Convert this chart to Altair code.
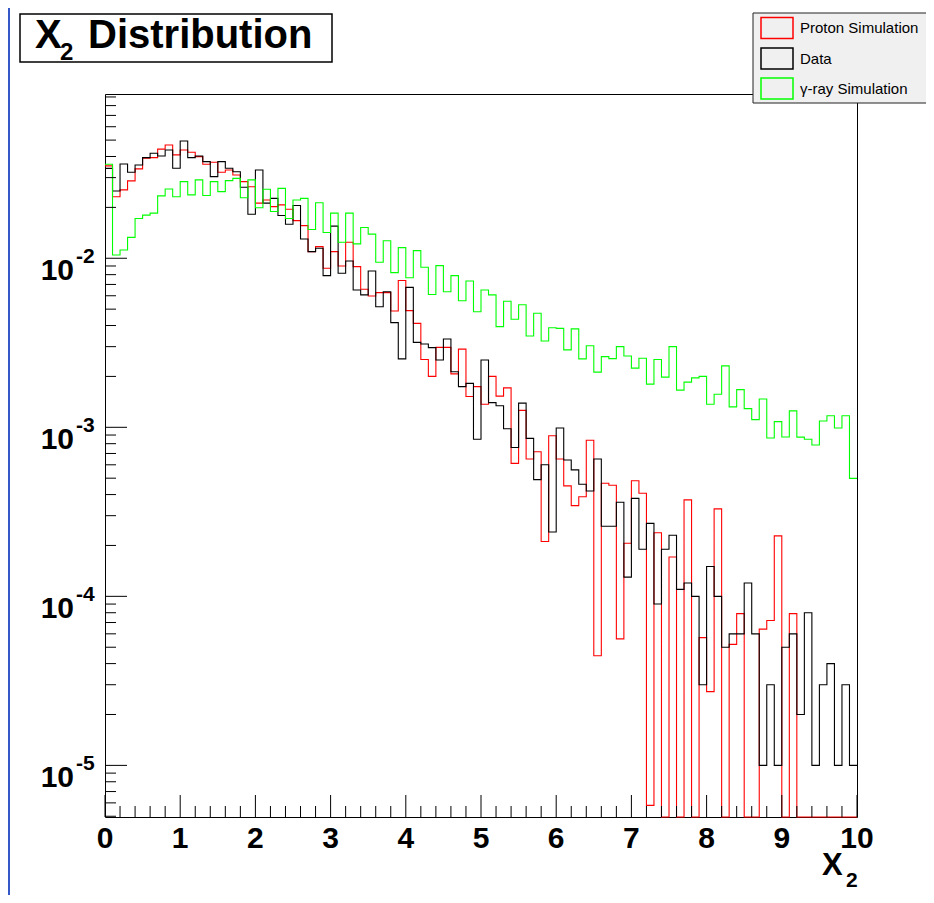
import altair as alt
import pandas as pd

# ---------------- data ----------------
X_EDGES = [round(i * 0.1, 1) for i in range(101)]   # bin edges 0.0 .. 10.0

PROTON = [
    0.0352, 0.0231, 0.0254, 0.0287, 0.0338, 0.0391, 0.0394, 0.0442, 0.0468, 0.0409,
    0.0437, 0.0424, 0.0399, 0.0360, 0.0370, 0.0323, 0.0333, 0.0311, 0.0284, 0.0265,
    0.0212, 0.0221, 0.0202, 0.0207, 0.0195, 0.0167, 0.0156, 0.01094, 0.01172, 0.00873,
    0.01094, 0.0090, 0.01244, 0.00892, 0.00656, 0.00598, 0.00626, 0.00626, 0.00488, 0.00738,
    0.0049, 0.00412, 0.00252, 0.0020, 0.00297, 0.00297, 0.00207, 0.0029, 0.00152, 0.00174,
    0.00137, 0.0020, 0.00153, 0.00171, 0.000612, 0.00126, 0.00065, 0.000717, 0.000211, 0.000892,
    0.00065, 0.00045, 0.000344, 0.000388, 0.000838, 0.0000445, 0.000467, 0.000454, 0.000056, 0.000206,
    0.000483, 0.000407, 0.0000058, 0.000238, 0.0, 0.000171, 0.0, 0.000372, 0.0, 0.000057,
    0.0000273, 0.000329, 0.0, 0.000052, 0.000079, 0.0, 0.0, 0.000064, 0.000072, 0.000228,
    0.0, 0.000079, 0.0, 0.0, 0.0, 0.0, 0.0, 0.0, 0.0, 0.0,
]

DATA = [
    0.034, 0.025, 0.0361, 0.0323, 0.0356, 0.0394, 0.0418, 0.0403, 0.0437, 0.0341,
    0.0494, 0.0394, 0.0403, 0.0373, 0.0304, 0.0373, 0.0341, 0.0325, 0.0263, 0.0182,
    0.0333, 0.0212, 0.0226, 0.0179, 0.0159, 0.0205, 0.0130, 0.01094, 0.01146, 0.00789,
    0.0155, 0.00815, 0.00964, 0.00649, 0.00607, 0.00841, 0.00517, 0.00634, 0.00416, 0.00254,
    0.00673, 0.00318, 0.00311, 0.00296, 0.0025, 0.00333, 0.00213, 0.00174, 0.00182, 0.00085,
    0.0025, 0.0014, 0.00134, 0.00098, 0.00076, 0.00139, 0.00086, 0.00049, 0.0006, 0.00024,
    0.00099, 0.00064, 0.00056, 0.00046, 0.00042, 0.00065, 0.00026, 0.00026, 0.00036, 0.00013,
    0.00038, 0.00019, 0.00027, 0.00009, 0.00019, 0.00023, 0.00011, 0.00012, 0.0001, 0.00003,
    0.00015, 0.0001, 0.00005, 0.00006, 0.00006, 0.00012, 0.00006, 0.00001, 0.00003, 0.00001,
    0.00005, 0.00006, 0.00002, 0.00008, 0.00001, 0.00003, 0.00004, 0.00001, 0.00003, 0.00001,
]

GAMMA = [
    0.0360, 0.01045, 0.0112, 0.0133, 0.0172, 0.0180, 0.0185, 0.0234, 0.0257, 0.0231,
    0.0284, 0.0237, 0.0291, 0.0235, 0.0284, 0.0248, 0.0288, 0.0297, 0.0228, 0.0291,
    0.0199, 0.0256, 0.0189, 0.0259, 0.0172, 0.0221, 0.0226, 0.0148, 0.0213, 0.0142,
    0.0185, 0.01244, 0.0185, 0.01216, 0.0152, 0.0139, 0.00947, 0.0127, 0.00822, 0.01156,
    0.00767, 0.0111, 0.00885, 0.0061, 0.00904, 0.00634, 0.00789, 0.00561, 0.00734, 0.00483,
    0.00649, 0.00607, 0.00394, 0.00557, 0.00436, 0.00531, 0.00347, 0.00473, 0.00324, 0.00388,
    0.00385, 0.00287, 0.00382, 0.00254, 0.00304, 0.00212, 0.00262, 0.00255, 0.0030, 0.00264,
    0.00224, 0.00256, 0.0018, 0.00252, 0.00198, 0.0030, 0.00166, 0.00185, 0.00196, 0.0020,
    0.00137, 0.00157, 0.00231, 0.00132, 0.00167, 0.00129, 0.00111, 0.00147, 0.000865, 0.00108,
    0.000877, 0.00125, 0.000875, 0.00085, 0.000786, 0.00109, 0.00117, 0.00099, 0.00117, 0.000499,
]

SERIES = ["Proton Simulation", "Data", "γ-ray Simulation"]
COLORS = ["#FF0000", "#000000", "#00FF00"]

X_MAJOR = [0, 1, 2, 3, 4, 5, 6, 7, 8, 9, 10]
Y_MAJOR = [1e-5, 1e-4, 1e-3, 1e-2]
Y_EXP = ["-5", "-4", "-3", "-2"]

# ---------------- layout ----------------
Y_MIN, Y_MAX = 4.95e-6, 0.0937
W, H = 752, 723
FONT = "Liberation Sans, Arial, Helvetica, sans-serif"

xs = alt.Scale(domain=[0, 10], nice=False, zero=False)
ys = alt.Scale(type="log", domain=[Y_MIN, Y_MAX], nice=False, clamp=True)

x_minor = [round(i + k * 0.2, 1) for i in range(10) for k in range(1, 5)]
y_minor = [k * 10.0 ** e for e in range(-6, -1) for k in range(2, 10)
           if Y_MIN <= k * 10.0 ** e <= Y_MAX]

one = pd.DataFrame({"k": [0]})


def box(x1, x2, y1, y2, **kw):
    return alt.Chart(one).mark_rect(**kw).encode(
        x=alt.value(x1), x2=alt.value(x2), y=alt.value(y1), y2=alt.value(y2))


def label(txt, x, y, **kw):
    return alt.Chart(one).mark_text(text=txt, font=FONT, **kw).encode(
        x=alt.value(x), y=alt.value(y))


layers = []

# left blue canvas edge
layers.append(box(-97, -95, -86, H + 80, color="#3558C8"))

# histograms (step lines)
for name, vals, col in zip(SERIES, [PROTON, DATA, GAMMA], COLORS):
    ext = list(vals) + [vals[-1]]
    df = pd.DataFrame({"x": X_EDGES, "v": [max(v, Y_MIN) for v in ext]})
    layers.append(
        alt.Chart(df).mark_line(interpolate="step-after", color=col, strokeWidth=1.1)
        .encode(x=alt.X("x:Q", scale=xs, axis=None),
                y=alt.Y("v:Q", scale=ys, axis=None))
    )

# x ticks (inside)
layers.append(
    alt.Chart(pd.DataFrame({"t": X_MAJOR})).mark_rule(color="black", strokeWidth=1)
    .encode(x=alt.X("t:Q", scale=xs, axis=None), y=alt.value(H), y2=alt.value(H - 22))
)
layers.append(
    alt.Chart(pd.DataFrame({"t": x_minor})).mark_rule(color="black", strokeWidth=1)
    .encode(x=alt.X("t:Q", scale=xs, axis=None), y=alt.value(H), y2=alt.value(H - 11))
)
# y ticks (inside)
layers.append(
    alt.Chart(pd.DataFrame({"t": Y_MAJOR})).mark_rule(color="black", strokeWidth=1)
    .encode(y=alt.Y("t:Q", scale=ys, axis=None), x=alt.value(0), x2=alt.value(22))
)
layers.append(
    alt.Chart(pd.DataFrame({"t": y_minor})).mark_rule(color="black", strokeWidth=1)
    .encode(y=alt.Y("t:Q", scale=ys, axis=None), x=alt.value(0), x2=alt.value(11))
)

# x tick labels
layers.append(
    alt.Chart(pd.DataFrame({"t": X_MAJOR, "s": [str(v) for v in X_MAJOR]}))
    .mark_text(font=FONT, fontSize=30, fontWeight="bold", align="center",
               baseline="alphabetic", color="black")
    .encode(x=alt.X("t:Q", scale=xs, axis=None), y=alt.value(H + 31), text="s:N")
)
# y tick labels 10^n
ylab = pd.DataFrame({"t": Y_MAJOR, "b": ["10"] * 4, "e": Y_EXP})
layers.append(
    alt.Chart(ylab).mark_text(font=FONT, fontSize=30, fontWeight="bold", align="right",
                              baseline="alphabetic", dy=21.7, color="black")
    .encode(y=alt.Y("t:Q", scale=ys, axis=None), x=alt.value(-31), text="b:N")
)
layers.append(
    alt.Chart(ylab).mark_text(font=FONT, fontSize=21, fontWeight="bold", align="left",
                              baseline="alphabetic", dy=5, color="black")
    .encode(y=alt.Y("t:Q", scale=ys, axis=None), x=alt.value(-29), text="e:N")
)

# x axis title X_2
layers.append(label("X", 717, H + 58, fontSize=31, fontWeight="bold", align="left",
                    baseline="alphabetic"))
layers.append(label("2", 741, H + 70, fontSize=21, fontWeight="bold", align="left",
                    baseline="alphabetic"))

# title box
layers.append(box(-85, 227, -80, -32, fill="white", stroke="black", strokeWidth=1.5))
layers.append(label("X", -70, -46, fontSize=40, fontWeight="bold", align="left",
                    baseline="alphabetic"))
layers.append(label("2", -45, -34, fontSize=24, fontWeight="bold", align="left",
                    baseline="alphabetic"))
layers.append(label("Distribution", -17, -46, fontSize=40, fontWeight="bold", align="left",
                    baseline="alphabetic"))

# legend
layers.append(box(648, 840, -81, 9, fill="#F0F0F0", stroke="#222222", strokeWidth=1))
row_y = [-66, -35.5, -5.5]
for name, col, yc in zip(SERIES, COLORS, row_y):
    layers.append(box(656, 688, yc - 10.5, yc + 10.5, fill="#F0F0F0", stroke=col,
                      strokeWidth=1.5))
    layers.append(label(name, 695, yc, fontSize=15, align="left", baseline="middle",
                        color="black"))

chart = alt.layer(*layers).properties(
    width=W, height=H,
    padding={"left": 97, "top": 86, "right": 69, "bottom": 78},
    autosize=alt.AutoSizeParams(type="none"),
    background="white",
).configure_view(stroke="black", strokeWidth=1)

chart.save("out.html", embed_options={"renderer": "svg", "actions": False})
